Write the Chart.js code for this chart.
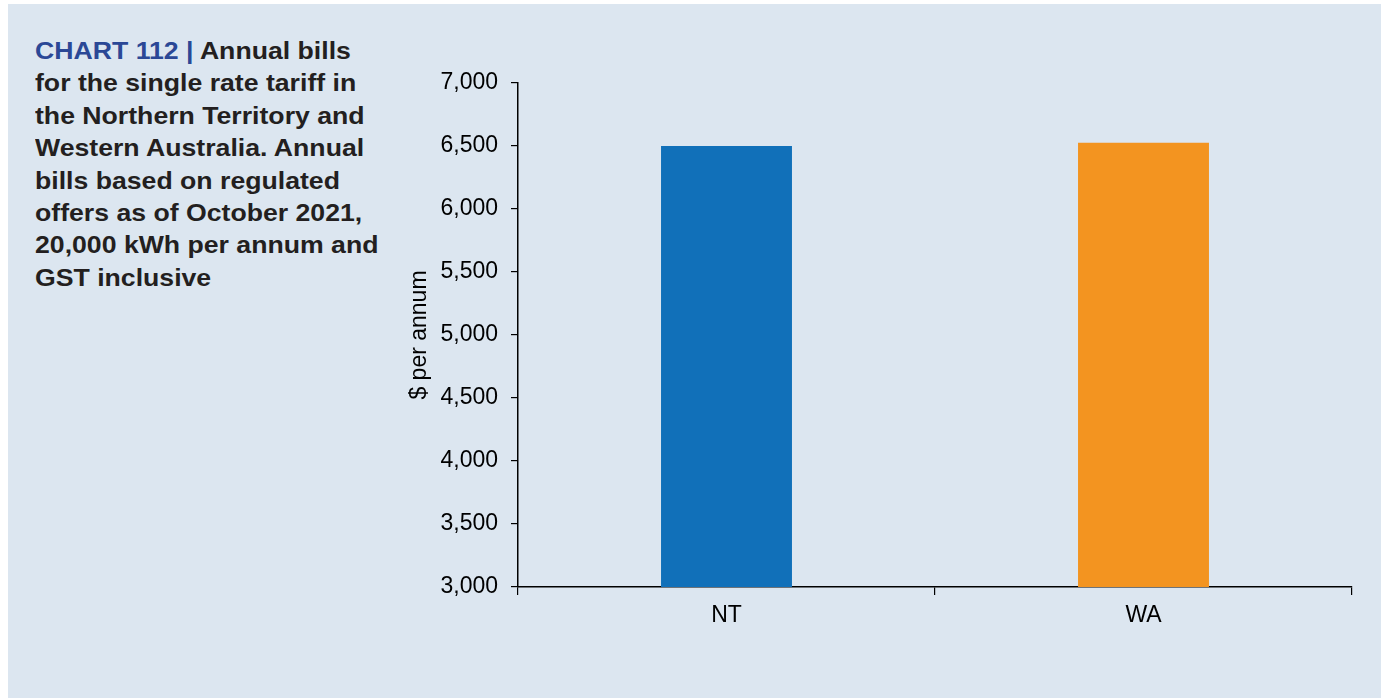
<!DOCTYPE html>
<html>
<head>
<meta charset="utf-8">
<script src="https://cdn.jsdelivr.net/npm/chart.js@4.4.1/dist/chart.umd.min.js"></script>
<style>
  html, body { margin: 0; padding: 0; background: #ffffff; }
  body { width: 1381px; height: 698px; position: relative; overflow: hidden; font-family: "Liberation Sans", Arial, sans-serif; }
  #panel { position: absolute; left: 8px; top: 4px; right: 0; bottom: 0; background: #dce6f0; }
  #title { position: absolute; left: 35px; top: 35px; font-weight: bold; font-size: 24px; line-height: 32.4px; color: #231f20; white-space: nowrap; transform: scaleX(1.11); transform-origin: left top; }
  #title .lab { color: #2b4896; }
  #wrap { position: absolute; left: 0; top: 0; width: 1381px; height: 698px; }
</style>
</head>
<body>
<div id="panel"></div>
<div id="title"><span class="lab">CHART 112 |</span> Annual bills<br>for the single rate tariff in<br>the Northern Territory and<br>Western Australia. Annual<br>bills based on regulated<br>offers as of October 2021,<br>20,000 kWh per annum and<br>GST inclusive</div>
<div id="wrap"><canvas id="c" width="1381" height="698"></canvas></div>
<script>
const categories = ["NT", "WA"];
const billValues = [6500, 6525];
const barColors = ["#1170b9", "#f39420"];
const yTitle = "$ per annum";

const ctx = document.getElementById("c");
new Chart(ctx, {
  type: "bar",
  data: {
    labels: categories,
    datasets: [{
      data: billValues,
      backgroundColor: barColors,
      borderWidth: 0,
      barPercentage: 0.314,
      categoryPercentage: 1.0
    }]
  },
  options: {
    responsive: false,
    animation: false,
    layout: { padding: { left: 380, top: 83, right: 29, bottom: 0 } },
    plugins: { legend: { display: false }, tooltip: { enabled: false } },
    scales: {
      x: {
        grid: { display: true, drawOnChartArea: false, drawTicks: true, tickLength: 8, color: "#000000", offset: true, lineWidth: 1.2 },
        border: { display: true, color: "#000000", width: 1.5 },
        ticks: { color: "#000000", font: { family: "Liberation Sans", size: 23 }, padding: 7 },
        afterFit: (s) => { s.height = 111; }
      },
      y: {
        min: 3000, max: 7000,
        grid: { display: true, drawOnChartArea: false, drawTicks: true, tickLength: 7, color: "#000000", lineWidth: 1.2 },
        border: { display: true, color: "#000000", width: 1.5 },
        ticks: {
          stepSize: 500, color: "#000000", padding: 13,
          font: { family: "Liberation Sans", size: 23 },
          callback: (v) => v.toLocaleString("en-US")
        },
        title: { display: true, text: yTitle, color: "#000000", font: { family: "Liberation Sans", size: 23 }, padding: { top: 26, bottom: 0 } },
        afterFit: (s) => { s.width = 138; }
      }
    }
  }
});
</script>
</body>
</html>
